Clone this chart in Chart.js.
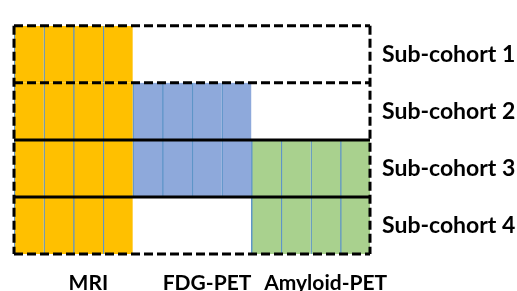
<!DOCTYPE html>
<html>
<head>
<meta charset="utf-8">
<script src="https://cdn.jsdelivr.net/npm/chart.js@4/dist/chart.umd.min.js"></script>
<style>
  html, body { margin: 0; padding: 0; background: #ffffff; }
  #wrap { width: 517px; height: 291px; position: relative; }
</style>
</head>
<body>
<div id="wrap"><canvas id="cohorts"></canvas></div>
<script>
  "use strict";

  // data
  const cohorts = ["Sub-cohort 1", "Sub-cohort 2", "Sub-cohort 3", "Sub-cohort 4"];
  const modalities = ["MRI", "FDG-PET", "Amyloid-PET"];
  const visits = ["V1", "V2", "V3", "V4"]; // stripes inside each modality block
  const mriAvailable = [1, 1, 1, 1];
  const fdgAvailable = [0, 1, 1, 0];
  const amyloidAvailable = [0, 0, 1, 1];

  const availability = [mriAvailable, fdgAvailable, amyloidAvailable];
  const FILL = ["#FFC000", "#8EA9DB", "#A9D18E"];
  const STRIPE = "#5E95C8";
  const FONT = "Lato, 'Open Sans', sans-serif";

  const datasets = [];
  modalities.forEach((mod, m) => {
    visits.forEach((visit, v) => {
      const start = m * visits.length + v;
      datasets.push({
        label: mod + " " + visit,
        data: availability[m].map((a) => (a ? [start, start + 1] : null)),
        backgroundColor: FILL[m],
        borderColor: STRIPE,
        borderWidth: { left: 1.5, right: 0, top: 0, bottom: 0 },
        borderSkipped: false,
        grouped: false,
        categoryPercentage: 1,
        barPercentage: 1
      });
    });
  });

  // dashed / solid frame around the cohort rows
  const framePlugin = {
    id: "cohortFrame",
    afterDatasetsDraw(chart) {
      const { ctx } = chart;
      const xs = chart.scales.x;
      const ys = chart.scales.y;
      const x0 = xs.getPixelForValue(0);
      const x1 = xs.getPixelForValue(modalities.length * visits.length);
      const solid = [2, 3];
      ctx.save();
      ctx.strokeStyle = "#000000";
      ctx.lineWidth = 3;
      for (let k = 0; k <= cohorts.length; k++) {
        const y = ys.getPixelForValue(k - 0.5);
        ctx.setLineDash(solid.includes(k) ? [] : [9, 4]);
        ctx.beginPath();
        ctx.moveTo(x0, y);
        ctx.lineTo(x1, y);
        ctx.stroke();
      }
      const yt = ys.getPixelForValue(-0.5);
      const yb = ys.getPixelForValue(cohorts.length - 0.5);
      ctx.setLineDash([9, 4]);
      [x0, x1].forEach((x) => {
        ctx.beginPath();
        ctx.moveTo(x, yt);
        ctx.lineTo(x, yb);
        ctx.stroke();
      });
      ctx.restore();
    }
  };

  new Chart(document.getElementById("cohorts"), {
    type: "bar",
    data: { labels: cohorts, datasets },
    options: {
      indexAxis: "y",
      responsive: true,
      maintainAspectRatio: false,
      animation: false,
      layout: { padding: { top: 15, left: 14, right: 0, bottom: 0 } },
      plugins: { legend: { display: false }, tooltip: { enabled: false } },
      scales: {
        x: {
          type: "linear",
          display: false,
          min: 0,
          max: modalities.length * visits.length
        },
        mod: {
          type: "category",
          labels: modalities,
          position: "bottom",
          offset: true,
          grid: { display: false, drawTicks: false },
          border: { display: false },
          ticks: {
            color: "#000000",
            font: { family: FONT, size: 21, weight: "bold" },
            padding: 17,
            labelOffset: 15,
            maxRotation: 0,
            autoSkip: false
          },
          afterFit: (scale) => { scale.height = 37; }
        },
        y: {
          position: "right",
          grid: { display: false, drawTicks: false },
          border: { display: false },
          ticks: {
            color: "#000000",
            font: { family: FONT, size: 23, weight: "bold" },
            padding: 12
          },
          afterFit: (scale) => { scale.width = 147; }
        }
      }
    },
    plugins: [framePlugin]
  });
</script>
</body>
</html>
